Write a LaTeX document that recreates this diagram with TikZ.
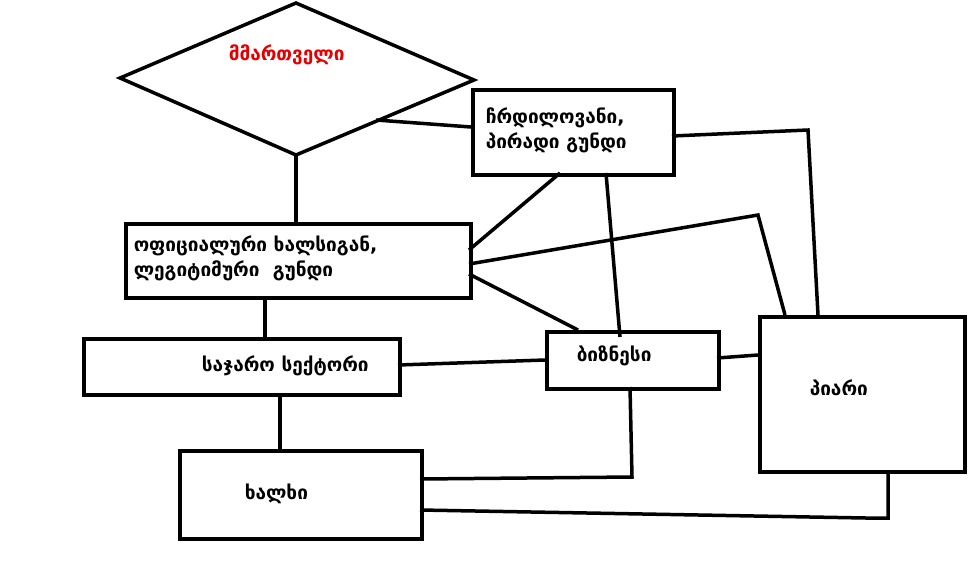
\documentclass[tikz,border=0pt]{standalone}
\usepackage{fontspec}
\newfontfamily\geofont{DejaVu Sans}
\begin{document}
\begin{tikzpicture}[x=1pt,y=-1pt,line width=3.5pt,line join=miter,
    box/.style={draw,rectangle,inner sep=0pt,anchor=north west,line width=3.5pt},
    lbl/.style={font=\geofont\bfseries\fontsize{19}{25}\selectfont,anchor=west,align=left,inner sep=0pt}]
  \useasboundingbox (0,0) rectangle (974,571);
  % the ruler
  \coordinate (dl) at (120,78);
  \coordinate (dt) at (296,3);
  \coordinate (dr) at (474,80);
  \coordinate (db) at (296,155);
  \draw (dl) -- (dt) -- (dr) -- (db) -- cycle;
  \node[lbl,text=red!90!black] (ruler) at (227,55) {მმართველი};

  % boxes
  \node[box,minimum width=201,minimum height=85] (shadow) at (471,88) {};
  \node[lbl] at (484,130) {ჩრდილოვანი,\\პირადი გუნდი};
  \node[box,minimum width=345,minimum height=74] (official) at (124,222) {};
  \node[lbl] at (132,258) {ოფიციალური ხალსიგან,\\ლეგიტიმური\ \ გუნდი};
  \node[box,minimum width=316,minimum height=56] (public) at (82,337) {};
  \node[lbl] at (200,366) {საჯარო სექტორი};
  \node[box,minimum width=172,minimum height=57] (business) at (545,330) {};
  \node[lbl] at (575,356) {ბიზნესი};
  \node[box,minimum width=205,minimum height=155] (pr) at (758,315) {};
  \node[lbl] at (808,388) {პიარი};
  \node[box,minimum width=242,minimum height=88] (people) at (178,449) {};
  \node[lbl] at (243,494) {ხალხი};

  % connectors
  \draw (db) -- (296,222);
  \draw (376,120) -- (shadow.west |- 0,127);
  \draw (672,136) -- (808,130) -- (818,315);
  \draw (560,173) -- (469,250);
  \draw (606,173) -- (620,337);
  \draw (469,264) -- (758,215) -- (785,315);
  \draw (469,274) -- (578,330);
  \draw (265,296) -- (265,337);
  \draw (398,365) -- (545,360);
  \draw (717,358) -- (758,355);
  \draw (280,393) -- (280,449);
  \draw (630,387) -- (632,477) -- (420,479);
  \draw (420,510) -- (866,518) -- (888,518) -- (888,470);
\end{tikzpicture}
\end{document}
